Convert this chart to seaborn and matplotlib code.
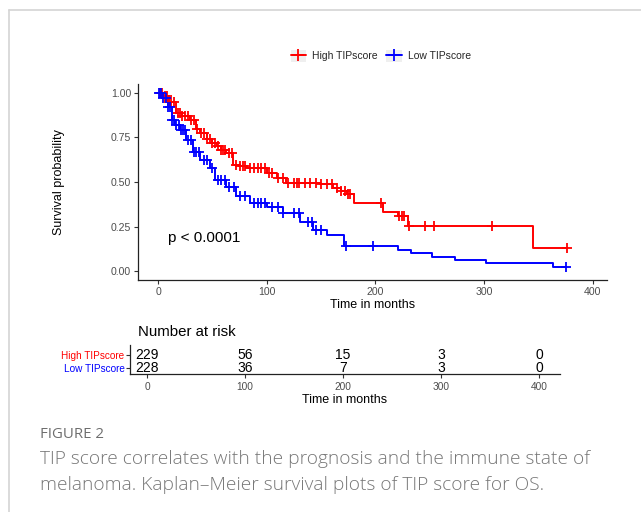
import numpy as np
import pandas as pd
import matplotlib
matplotlib.use("Agg")
import matplotlib.pyplot as plt
from matplotlib.lines import Line2D
from matplotlib.patches import Rectangle
from matplotlib.legend_handler import HandlerTuple
import seaborn as sns

# ---------------- data ----------------
groups = ["High TIPscore", "Low TIPscore"]
colors = ["#FF0000", "#0000FF"]

high_times = [0, 5, 10, 17, 22, 29, 35, 39, 45, 50, 54, 58, 63, 69, 75, 82, 100, 109, 118,
              149, 161, 168, 174, 180, 207, 221, 230, 345, 376]
high_surv = [1.0, 0.98, 0.95, 0.89, 0.87, 0.85, 0.80, 0.775, 0.74, 0.72, 0.70, 0.68, 0.66,
             0.595, 0.59, 0.58, 0.55, 0.52, 0.495, 0.49, 0.466, 0.45, 0.43, 0.384, 0.33,
             0.31, 0.255, 0.13, 0.13]
high_censor = [2, 4, 6, 8, 10, 12, 15, 18, 20, 22, 25, 28, 30, 33, 36, 40, 42, 45, 48, 50,
               52, 55, 58, 60, 62, 65, 68, 72, 75, 78, 80, 85, 88, 92, 95, 98, 102, 105, 110,
               115, 120, 125, 128, 130, 135, 140, 145, 150, 155, 160, 165, 168, 172, 175, 177,
               205, 222, 224, 226, 231, 246, 254, 307, 376]

low_times = [0, 4, 9, 13, 16, 20, 26, 32, 39, 48, 52, 63, 72, 85, 100, 115, 131, 143, 155,
             171, 221, 233, 252, 273, 302, 363, 375]
low_surv = [1.0, 0.97, 0.92, 0.85, 0.82, 0.79, 0.735, 0.67, 0.625, 0.58, 0.51, 0.47, 0.42,
            0.38, 0.36, 0.325, 0.277, 0.23, 0.20, 0.143, 0.118, 0.099, 0.08, 0.062, 0.043,
            0.021, 0.021]
low_censor = [1, 3, 5, 7, 9, 11, 13, 15, 17, 19, 21, 23, 25, 28, 30, 33, 35, 38, 42, 45, 50,
              55, 58, 62, 65, 70, 75, 80, 88, 92, 95, 98, 105, 110, 115, 125, 130, 138, 142,
              145, 150, 173, 198, 375]

risk_times = [0, 100, 200, 300, 400]
risk_high = [229, 56, 15, 3, 0]
risk_low = [228, 36, 7, 3, 0]

x_ticks = [0, 100, 200, 300, 400]
y_ticks = [0.0, 0.25, 0.5, 0.75, 1.0]
y_ticklabels = ["0.00", "0.25", "0.50", "0.75", "1.00"]

p_text = "p < 0.0001"
caption_head = "FIGURE 2"
caption_lines = ["TIP score correlates with the prognosis and the immune state of",
                 "melanoma. Kaplan\u2013Meier survival plots of TIP score for OS."]

# ---------------- figure ----------------
sns.set_theme(style="white")
plt.rcParams["font.family"] = ["Liberation Sans", "DejaVu Sans"]

W, H = 641, 512
fig = plt.figure(figsize=(W / 100, H / 100), dpi=100)
fig.patch.set_facecolor("white")

def fx(px):
    return px / W

def fy(py):
    return 1 - py / H

# frame border
fig.add_artist(Line2D([fx(9), 1.0], [fy(10), fy(10)], color="#d4d4d4", lw=1.2,
                      transform=fig.transFigure))
fig.add_artist(Line2D([fx(9), fx(9)], [fy(10), 0.0], color="#d4d4d4", lw=1.2,
                      transform=fig.transFigure))

# main axes
ax = fig.add_axes([fx(138), fy(280), fx(607) - fx(138), fy(84) - fy(280)])

curves = pd.concat([
    pd.DataFrame({"time": high_times, "surv": high_surv, "group": groups[0]}),
    pd.DataFrame({"time": low_times, "surv": low_surv, "group": groups[1]}),
])

def surv_at(times, surv, t):
    idx = np.searchsorted(times, t, side="right") - 1
    return np.asarray(surv)[idx]

cens = pd.concat([
    pd.DataFrame({"time": high_censor,
                  "surv": surv_at(high_times, high_surv, high_censor), "group": groups[0]}),
    pd.DataFrame({"time": low_censor,
                  "surv": surv_at(low_times, low_surv, low_censor), "group": groups[1]}),
])

pal = dict(zip(groups, colors))
sns.lineplot(data=curves, x="time", y="surv", hue="group", palette=pal,
             estimator=None, sort=False, drawstyle="steps-post", lw=1.4,
             legend=False, ax=ax)
for g in groups:
    d = cens[cens["group"] == g]
    ax.plot(d["time"], d["surv"], linestyle="none", marker="+", ms=7, mew=1.3,
            color=pal[g])

ax.set_xlim(-18.4, 413)
ax.set_ylim(-0.05, 1.05)
ax.set_xticks(x_ticks)
ax.set_xticklabels([str(t) for t in x_ticks])
ax.set_yticks(y_ticks)
ax.set_yticklabels(y_ticklabels)
for s in ["top", "right"]:
    ax.spines[s].set_visible(False)
for s in ["left", "bottom"]:
    ax.spines[s].set_color("#222222")
    ax.spines[s].set_linewidth(0.9)
ax.tick_params(axis="both", which="both", length=3, width=0.8, color="#333333",
               labelsize=7.6, labelcolor="#4d4d4d", pad=2, direction="out",
               bottom=True, left=True)
ax.set_xlabel("Time in months", fontsize=9, color="black", labelpad=1.5)
ax.set_ylabel("Survival probability", fontsize=9, color="black", labelpad=33)
ax.text(9, 0.185, p_text, fontsize=11, color="black", va="center", ha="left")

# legend
handles = [(Rectangle((0, 0), 1, 1, facecolor="#efefef", edgecolor="none"),
            Line2D([0], [0], color=c, lw=1.4, marker="+", ms=8, mew=1.3)) for c in colors]
leg = fig.legend(handles, groups, loc="center", bbox_to_anchor=(fx(381), fy(56)),
                 ncol=2, frameon=False, fontsize=7.5, handlelength=1.5, handleheight=1.5,
                 columnspacing=0.8, handletextpad=0.6,
                 handler_map={tuple: HandlerTuple(ndivide=1, pad=0)})

# risk table axes
rax = fig.add_axes([fx(130), fy(374), fx(560) - fx(130), fy(345) - fy(374)])
rax.set_xlim(-17.3, 421)
rax.set_ylim(-0.46, 1.77)
for t, h, l in zip(risk_times, risk_high, risk_low):
    rax.text(t, 1, str(h), ha="center", va="center", fontsize=10, color="black")
    rax.text(t, 0, str(l), ha="center", va="center", fontsize=10, color="black")
rax.set_xticks(x_ticks)
rax.set_xticklabels([str(t) for t in x_ticks])
rax.set_yticks([1, 0])
rax.set_yticklabels(groups)
for lab, c in zip(rax.get_yticklabels(), colors):
    lab.set_color(c)
for s in ["top", "right"]:
    rax.spines[s].set_visible(False)
for s in ["left", "bottom"]:
    rax.spines[s].set_color("#222222")
    rax.spines[s].set_linewidth(0.9)
rax.tick_params(axis="x", length=3, width=0.8, color="#333333", labelsize=7.3,
                labelcolor="#4d4d4d", pad=3, bottom=True)
rax.tick_params(axis="y", length=3, width=0.8, color="#333333", labelsize=7.2,
                pad=1, left=True)
rax.set_xlabel("Time in months", fontsize=9, color="black", labelpad=1.5)
fig.text(fx(138), fy(332), "Number at risk", fontsize=10.8, color="black",
         ha="left", va="center")

# caption
fig.text(fx(40), fy(434), caption_head, fontsize=10.8, color="#6e6e6e",
         ha="left", va="center", family=["Open Sans", "DejaVu Sans"])
for i, line in enumerate(caption_lines):
    fig.text(fx(40), fy(459 + 26 * i), line, fontsize=13.75, color="#777777",
             ha="left", va="center", family=["Open Sans", "DejaVu Sans"],
             fontweight="light")

fig.savefig("out.png", dpi=100)
